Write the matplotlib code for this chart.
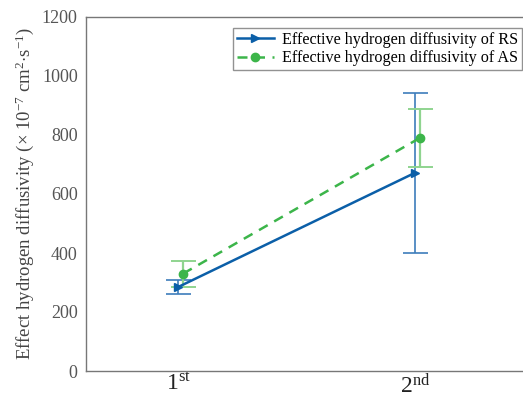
import matplotlib
matplotlib.use("Agg")
import matplotlib.pyplot as plt

plt.rcParams['font.family'] = ['Liberation Serif', 'DejaVu Serif']
plt.rcParams['mathtext.fontset'] = 'custom'
plt.rcParams['mathtext.rm'] = 'Liberation Serif'
plt.rcParams['mathtext.it'] = 'Liberation Serif:italic'

# Charging cycles and measured effective hydrogen diffusivity (x1e-7 cm^2/s)
cycles = [1, 2]
cycle_labels = [r'$\mathregular{1^{st}}$', r'$\mathregular{2^{nd}}$']
rs_values = [285, 672]
rs_errors = [24, 272]
as_values = [330, 790]
as_errors = [44, 98]
as_shift = 0.02

blue = '#0b5fa8'
green = '#3cb54a'

fig = plt.figure(figsize=(5.23, 3.98), dpi=100)
ax = fig.add_axes([86 / 523, 1 - 371 / 398, 447.5 / 523, 354 / 398])

# error bars drawn lighter beneath the series lines
ax.errorbar(cycles, rs_values, yerr=rs_errors, fmt='none', ecolor='#3d7dbb',
            elinewidth=1.2, capsize=9, capthick=1.2, zorder=2)
ax.errorbar([c + as_shift for c in cycles], as_values, yerr=as_errors, fmt='none',
            ecolor='#8fd48f', elinewidth=1.6, capsize=9, capthick=1.4, zorder=2)

ax.plot(cycles, rs_values, color=blue, lw=1.8, marker='>', ms=6,
        label='Effective hydrogen diffusivity of RS', zorder=4)
ax.plot([c + as_shift for c in cycles], as_values, color=green, lw=1.8, ls=(0, (4, 3)),
        marker='o', ms=6, label='Effective hydrogen diffusivity of AS', zorder=3)

ax.set_xlim(0.61, 2.5)
ax.set_ylim(0, 1200)
ax.set_yticks(range(0, 1201, 200))
ax.set_xticks(cycles)
ax.set_xticklabels(cycle_labels, fontsize=17, color='#222222')
ax.tick_params(axis='y', labelsize=13, colors='#555555', length=0, pad=6)
ax.tick_params(axis='x', length=0, pad=2)

for side in ['left', 'bottom', 'top']:
    ax.spines[side].set_color('#777777')
    ax.spines[side].set_linewidth(1.0)
ax.spines['right'].set_visible(False)

ax.set_ylabel(r'Effect hydrogen diffusivity ($\times$ 10$^{\mathregular{-7}}$ cm$^{2}$$\cdot$s$^{\mathregular{-1}}$)',
              fontsize=13.5, color='#444444', labelpad=4)

leg = ax.legend(loc='upper right', bbox_to_anchor=(522 / 523, 1 - 28 / 398),
                bbox_transform=fig.transFigure, fontsize=11.6, frameon=True,
                fancybox=False, edgecolor='#777777', borderpad=0.25,
                handlelength=2.3, handletextpad=0.5, labelspacing=0.15,
                borderaxespad=0)
leg.get_frame().set_linewidth(1.0)

fig.savefig('out.png', dpi=100)
